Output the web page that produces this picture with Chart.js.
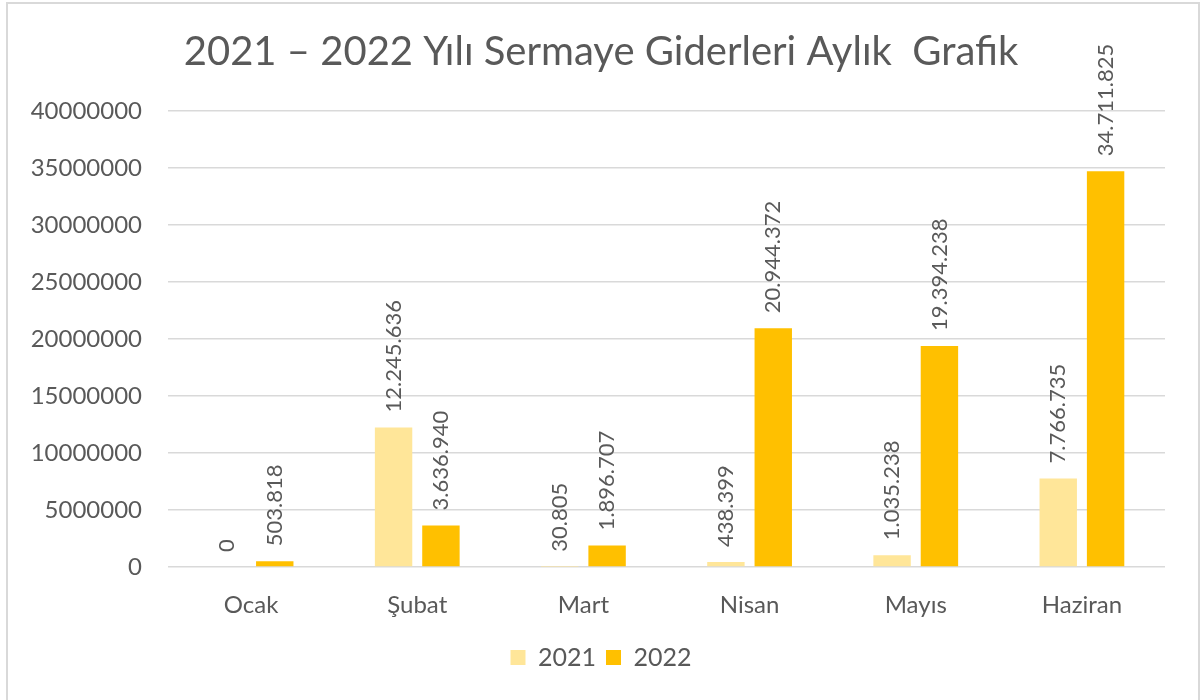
<!DOCTYPE html>
<html>
<head>
<meta charset="utf-8">
<script src="https://cdn.jsdelivr.net/npm/chart.js@4/dist/chart.umd.min.js"></script>
<style>
  body { margin: 0; background: #fff; }
  #wrap { position: relative; width: 1202px; height: 700px; overflow: hidden; }
  #frame { position: absolute; left: 6px; top: 2px; width: 1190px; height: 720px; border: 2px solid #d9d9d9; pointer-events: none; }
</style>
</head>
<body>
<div id="wrap">
  <canvas id="chart" width="1202" height="700"></canvas>
  <div id="frame"></div>
</div>
<script>
const months = ['Ocak', 'Şubat', 'Mart', 'Nisan', 'Mayıs', 'Haziran'];
const values2021 = [0, 12245636, 30805, 438399, 1035238, 7766735];
const values2022 = [503818, 3636940, 1896707, 20944372, 19394238, 34711825];

const textColor = '#595959';
const fontFamily = 'Lato, "DejaVu Sans", sans-serif';

// 12245636 -> 12.245.636
function fmt(v) {
    return String(v).replace(/\B(?=(\d{3})+(?!\d))/g, '.');
}

const barLabels = {
    id: 'barLabels',
    afterDatasetsDraw(chart) {
        const ctx = chart.ctx;
        ctx.save();
        ctx.font = '22px ' + fontFamily;
        ctx.fillStyle = textColor;
        ctx.textAlign = 'left';
        ctx.textBaseline = 'middle';
        chart.data.datasets.forEach((ds, i) => {
            chart.getDatasetMeta(i).data.forEach((bar, j) => {
                ctx.save();
                ctx.translate(bar.x, bar.y - 15);
                ctx.rotate(-Math.PI / 2);
                ctx.fillText(fmt(ds.data[j]), 0, 0);
                ctx.restore();
            });
        });
        ctx.restore();
    }
};

const ctx = document.getElementById('chart').getContext('2d');
new Chart(ctx, {
    type: 'bar',
    data: {
        labels: months,
        datasets: [
            { label: '2021', data: values2021, backgroundColor: '#FFE699' },
            { label: '2022', data: values2022, backgroundColor: '#FFC000' }
        ]
    },
    options: {
        responsive: false,
        animation: false,
        datasets: {
            bar: { categoryPercentage: 0.57, barPercentage: 0.79 }
        },
        layout: {
            padding: { left: 0, right: 0, top: 0, bottom: 20 }
        },
        plugins: {
            title: {
                display: true,
                text: '2021 – 2022 Yılı Sermaye Giderleri Aylık  Grafik',
                color: textColor,
                font: { family: fontFamily, size: 40, weight: 'normal', lineHeight: 1.2 },
                padding: { top: 28, bottom: 35 }
            },
            legend: {
                position: 'bottom',
                labels: {
                    color: textColor,
                    font: { family: fontFamily, size: 25 },
                    boxWidth: 15,
                    boxHeight: 15,
                    padding: 10
                }
            },
            tooltip: { enabled: false }
        },
        scales: {
            x: {
                grid: { display: false },
                border: { display: false },
                ticks: { color: textColor, font: { family: fontFamily, size: 24 }, padding: 16 },
                afterFit(scale) { scale.height = 68; }
            },
            y: {
                min: 0,
                max: 40000000,
                grid: { color: '#d9d9d9', lineWidth: 1.5, drawTicks: false },
                border: { display: false },
                ticks: {
                    stepSize: 5000000,
                    color: textColor,
                    font: { family: fontFamily, size: 24 },
                    padding: 26,
                    callback: v => String(v)
                },
                afterFit(scale) { scale.width = 168; }
            },
            // empty right-hand spacer so the plot ends where the reference does
            spacer: {
                type: 'linear',
                position: 'right',
                display: true,
                grid: { display: false, drawTicks: false },
                border: { display: false },
                ticks: { display: false },
                afterFit(scale) { scale.width = 37; }
            }
        }
    },
    plugins: [barLabels]
});
</script>
</body>
</html>
